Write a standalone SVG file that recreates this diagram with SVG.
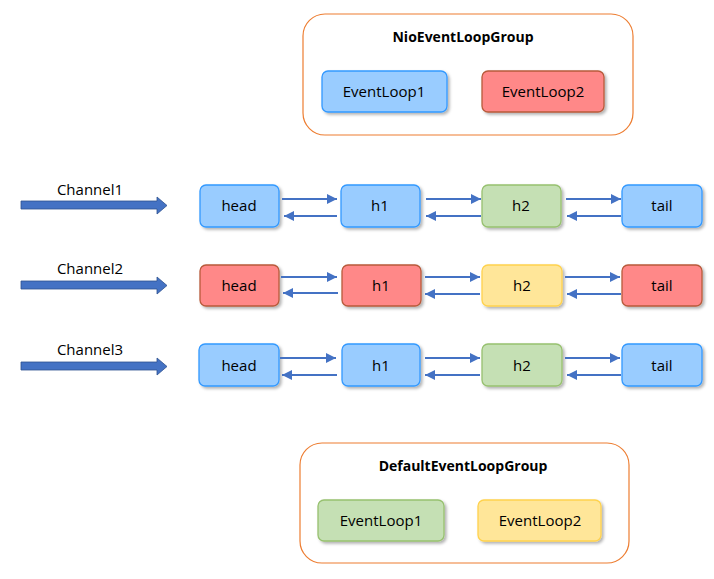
<svg xmlns="http://www.w3.org/2000/svg" width="714" height="579" viewBox="0 0 714 579">
<defs>
<filter id="sh" x="-20%" y="-20%" width="140%" height="150%">
<feDropShadow dx="2" dy="2" stdDeviation="1.5" flood-color="#000" flood-opacity="0.3"/>
</filter>
<marker id="ah" viewBox="0 0 10 10" refX="10" refY="5" markerWidth="5" markerHeight="5" orient="auto" markerUnits="strokeWidth">
<path d="M0,0 L10,5 L0,10 z" fill="#4472C4"/>
</marker>
</defs>
<style>
text{font-family:"Open Sans","Noto Sans","Liberation Sans",sans-serif;fill:#000;text-anchor:middle;}
.lbl{font-size:15px;}
.ttl{font-size:14px;font-weight:bold;}
.grp{fill:#fff;stroke:#ED7D31;stroke-width:1.2;}
.n{filter:url(#sh);stroke-width:1.3;}
.blue{fill:#99CCFF;stroke:#3399FF;}
.red{fill:#FF8888;stroke:#B85A3A;}
.green{fill:#C5E0B4;stroke:#97C16F;}
.yellow{fill:#FFE699;stroke:#FFD24D;}
.lk{stroke:#4472C4;stroke-width:2;fill:none;marker-end:url(#ah);}
.big{fill:#4472C4;stroke:#2F528F;stroke-width:0.8;}
</style>
<rect width="714" height="579" fill="#fff"/>

<g id="nioGroup">
<rect class="grp" x="303" y="14" width="330" height="121" rx="22"/>
<text class="ttl" x="463" y="42">NioEventLoopGroup</text>
</g>
<g id="nioEL1"><rect class="n blue" x="322" y="71" width="125" height="41" rx="6"/><text class="lbl" x="384" y="97">EventLoop1</text></g>
<g id="nioEL2"><rect class="n red" x="482" y="71" width="122" height="41" rx="6"/><text class="lbl" x="543" y="97">EventLoop2</text></g>

<g id="ch1"><text class="lbl" x="90" y="195">Channel1</text><path class="big" d="M21,201 H157 V197 L167,205.5 L157,214 V209 H21 Z"/></g>
<g id="ch2"><text class="lbl" x="90" y="274">Channel2</text><path class="big" d="M21,281 H157 V277 L167,285.5 L157,294 V289 H21 Z"/></g>
<g id="ch3"><text class="lbl" x="90" y="355">Channel3</text><path class="big" d="M21,362 H157 V358 L167,366.5 L157,375 V370 H21 Z"/></g>

<g id="r1head"><rect class="n blue" x="200" y="185" width="79" height="42" rx="6"/><text class="lbl" x="239" y="211">head</text></g>
<g id="r1h1"><rect class="n blue" x="341" y="185" width="79" height="42" rx="6"/><text class="lbl" x="380" y="211">h1</text></g>
<g id="r1h2"><rect class="n green" x="482" y="185" width="79" height="42" rx="6"/><text class="lbl" x="521" y="211">h2</text></g>
<g id="r1tail"><rect class="n blue" x="622" y="185" width="80" height="42" rx="6"/><text class="lbl" x="662" y="211">tail</text></g>

<g id="r2head"><rect class="n red" x="200" y="265" width="79" height="41" rx="6"/><text class="lbl" x="239" y="291">head</text></g>
<g id="r2h1"><rect class="n red" x="342" y="265" width="79" height="41" rx="6"/><text class="lbl" x="381" y="291">h1</text></g>
<g id="r2h2"><rect class="n yellow" x="482" y="265" width="80" height="41" rx="6"/><text class="lbl" x="522" y="291">h2</text></g>
<g id="r2tail"><rect class="n red" x="622" y="265" width="80" height="41" rx="6"/><text class="lbl" x="662" y="291">tail</text></g>

<g id="r3head"><rect class="n blue" x="199" y="344" width="80" height="42" rx="6"/><text class="lbl" x="239" y="371">head</text></g>
<g id="r3h1"><rect class="n blue" x="342" y="344" width="78" height="42" rx="6"/><text class="lbl" x="381" y="371">h1</text></g>
<g id="r3h2"><rect class="n green" x="482" y="344" width="80" height="42" rx="6"/><text class="lbl" x="522" y="371">h2</text></g>
<g id="r3tail"><rect class="n blue" x="622" y="344" width="80" height="42" rx="6"/><text class="lbl" x="662" y="371">tail</text></g>

<g id="connectors">
<line class="lk" x1="282" y1="199" x2="337" y2="199"/>
<line class="lk" x1="337" y1="216" x2="284" y2="216"/>
<line class="lk" x1="426" y1="199" x2="481" y2="199"/>
<line class="lk" x1="481" y1="216" x2="426" y2="216"/>
<line class="lk" x1="566" y1="199" x2="621" y2="199"/>
<line class="lk" x1="621" y1="216" x2="567" y2="216"/>

<line class="lk" x1="281" y1="277" x2="337" y2="277"/>
<line class="lk" x1="338" y1="293" x2="283" y2="293"/>
<line class="lk" x1="425" y1="277" x2="480" y2="277"/>
<line class="lk" x1="480" y1="294" x2="425" y2="294"/>
<line class="lk" x1="565" y1="277" x2="620" y2="277"/>
<line class="lk" x1="621" y1="294" x2="567" y2="294"/>

<line class="lk" x1="280" y1="358" x2="336" y2="358"/>
<line class="lk" x1="337" y1="375" x2="282" y2="375"/>
<line class="lk" x1="425" y1="358" x2="480" y2="358"/>
<line class="lk" x1="480" y1="375" x2="425" y2="375"/>
<line class="lk" x1="565" y1="358" x2="620" y2="358"/>
<line class="lk" x1="621" y1="375" x2="567" y2="375"/>
</g>

<g id="defGroup">
<rect class="grp" x="300" y="443" width="329" height="120" rx="22"/>
<text class="ttl" x="463" y="471">DefaultEventLoopGroup</text>
</g>
<g id="defEL1"><rect class="n green" x="318" y="500" width="126" height="41" rx="6"/><text class="lbl" x="381" y="526">EventLoop1</text></g>
<g id="defEL2"><rect class="n yellow" x="478" y="500" width="123" height="41" rx="6"/><text class="lbl" x="540" y="526">EventLoop2</text></g>
</svg>
